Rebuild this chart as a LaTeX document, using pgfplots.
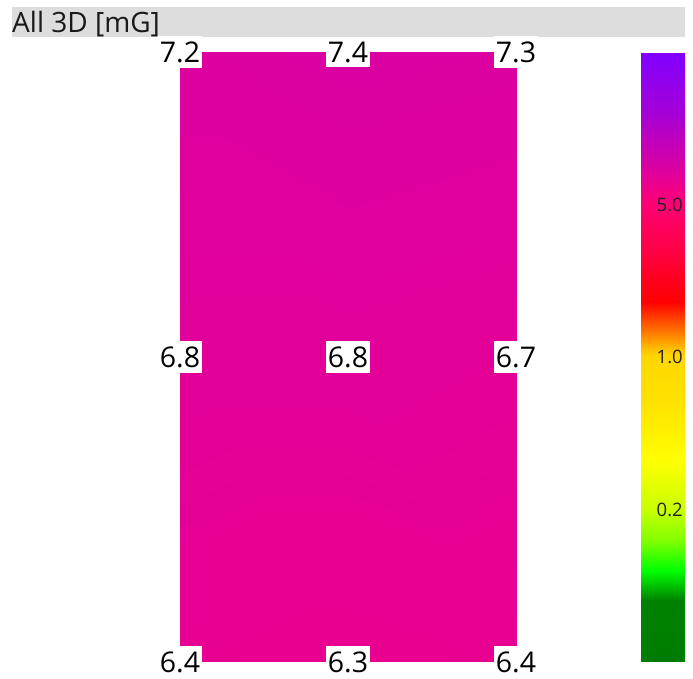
\documentclass[border=0pt]{standalone}
\usepackage{pgfplots}
\pgfplotsset{compat=1.18}
\usepackage{fontspec}
\setmainfont{Open Sans}
\definecolor{titlegray}{RGB}{221,221,221}
\definecolor{titletext}{RGB}{25,25,25}
\definecolor{cbtext}{RGB}{35,35,35}
\pgfplotsset{colormap={field}{
 rgb255(0cm)=(0,125,0)
 rgb255(10cm)=(0,128,0)
 rgb255(15cm)=(0,255,0)
 rgb255(20cm)=(130,255,0)
 rgb255(25cm)=(200,255,0)
 rgb255(33cm)=(255,255,0)
 rgb255(43cm)=(255,225,0)
 rgb255(50cm)=(255,215,0)
 rgb255(51cm)=(255,200,0)
 rgb255(54.5cm)=(255,110,0)
 rgb255(59cm)=(255,0,0)
 rgb255(67.5cm)=(255,0,70)
 rgb255(75cm)=(255,0,115)
 rgb255(80cm)=(225,0,155)
 rgb255(90cm)=(165,0,215)
 rgb255(100cm)=(128,0,255)
}}
\begin{document}
\begin{tikzpicture}[x=1pt,y=1pt]
\useasboundingbox (0,0) rectangle (693,679);
\fill[titlegray] (12,642) rectangle (685,672);
\node[anchor=base west, inner sep=0pt, font=\fontsize{28}{28}\selectfont, text=titletext] at (12,646) {All 3D [mG]};
\begin{axis}[
  at={(180pt,17pt)}, anchor=south west,
  scale only axis, width=336pt, height=610pt,
  view={0}{90},
  xmin=0, xmax=2, ymin=0, ymax=2,
  hide axis, clip=false,
  colormap name=field,
  point meta min=-1.39794, point meta max=1.39794,
  colorbar,
  colorbar/width=44pt,
  colorbar shift/.style={},
  colorbar style={
    at={(parent axis.north east)}, anchor=north west, xshift=125pt,
    scale only axis, height=610pt,
    ytick={-0.69897,0,0.69897},
    yticklabels={0.2,1.0,5.0},
    major tick length=0pt,
    axis line style={draw=none},
    yticklabel pos=right,
    yticklabel style={anchor=east, inner sep=0pt, xshift=-2pt, font=\fontsize{18.5}{18.5}\selectfont, text=cbtext},
  },
]
\addplot3[surf, shader=interp, mesh/cols=3, point meta={log10(\thisrow{v})}] table {
x y z v
0 0 0 6.4
1 0 0 6.3
2 0 0 6.4
0 1 0 6.8
1 1 0 6.8
2 1 0 6.7
0 2 0 7.2
1 2 0 7.4
2 2 0 7.3
};
\addplot[draw=none, mark=none, nodes near coords, point meta=explicit symbolic,
  nodes near coords align=center,
  every node near coord/.append style={fill=white, inner xsep=2pt, inner ysep=5pt, font=\fontsize{28.5}{28.5}\selectfont, text=black}]
  table[meta=l] {
x y l
0 2 7.2
1 2 7.4
2 2 7.3
0 1 6.8
1 1 6.8
2 1 6.7
0 0 6.4
1 0 6.3
2 0 6.4
};
\end{axis}
\end{tikzpicture}
\end{document}
